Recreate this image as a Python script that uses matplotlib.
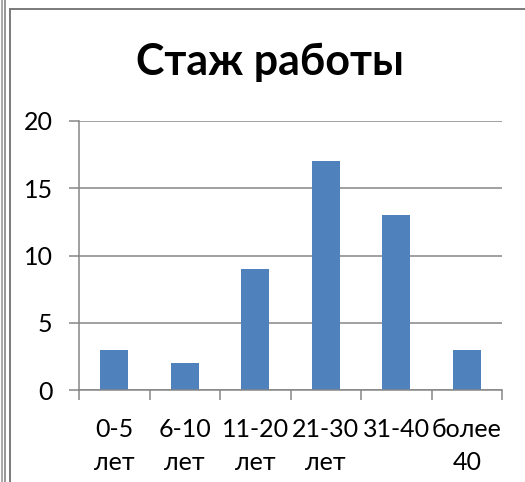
import matplotlib
matplotlib.use('Agg')
import matplotlib.pyplot as plt
from matplotlib.lines import Line2D

# Данные
categories = ['0-5\nлет', '6-10\nлет', '11-20\nлет', '21-30\nлет', '31-40', 'более\n40']
values = [3, 2, 9, 17, 13, 3]
yticks = [0, 5, 10, 15, 20]

plt.rcParams['font.family'] = ['Lato', 'DejaVu Sans']

W, H = 525, 482
fig = plt.figure(figsize=(W / 100, H / 100), dpi=100)
fig.patch.set_facecolor('white')

# Рамки слева и вокруг диаграммы
fig.add_artist(Line2D([1.5 / W, 1.5 / W], [0, 1], color='#a8a8a8', lw=1.4))
fig.add_artist(Line2D([4.5 / W, 4.5 / W], [0, 1], color='#7a7a7a', lw=1.1))
fig.add_artist(Line2D([9.5 / W, 9.5 / W], [0, 1 - 8.5 / H], color='#7a7a7a', lw=1.4))
fig.add_artist(Line2D([9.5 / W, 1], [1 - 8.5 / H, 1 - 8.5 / H], color='#7a7a7a', lw=1.4))

ax = fig.add_axes([79 / W, 1 - 390 / H, 423 / W, 269 / H])
x = range(len(categories))
ax.bar(x, values, width=0.4, color='#4F81BD', zorder=3)

ax.set_xlim(-0.5, len(categories) - 0.5)
ax.set_ylim(0, 20)
ax.set_yticks(yticks)
ax.grid(axis='y', color='#868686', lw=1.1, zorder=0)

ax.set_xticks([i - 0.5 for i in range(len(categories) + 1)])
ax.set_xticklabels([])
ax.set_xticks(list(x), minor=True)
ax.set_xticklabels(categories, minor=True, fontsize=18, linespacing=1.55)
ax.tick_params(axis='x', which='major', length=7, color='#868686', width=1.1)
ax.tick_params(axis='x', which='minor', length=0, pad=20)
ax.tick_params(axis='y', length=7, color='#868686', width=1.1, labelsize=18, pad=12)

for s in ['top', 'right']:
    ax.spines[s].set_visible(False)
for s in ['left', 'bottom']:
    ax.spines[s].set_color('#868686')
    ax.spines[s].set_linewidth(1.1)
    ax.spines[s].set_zorder(4)

fig.text(270 / W, 1 - 62 / H, 'Стаж работы', fontsize=31, fontweight='bold',
         ha='center', va='center')

fig.savefig('out.png', dpi=100)
